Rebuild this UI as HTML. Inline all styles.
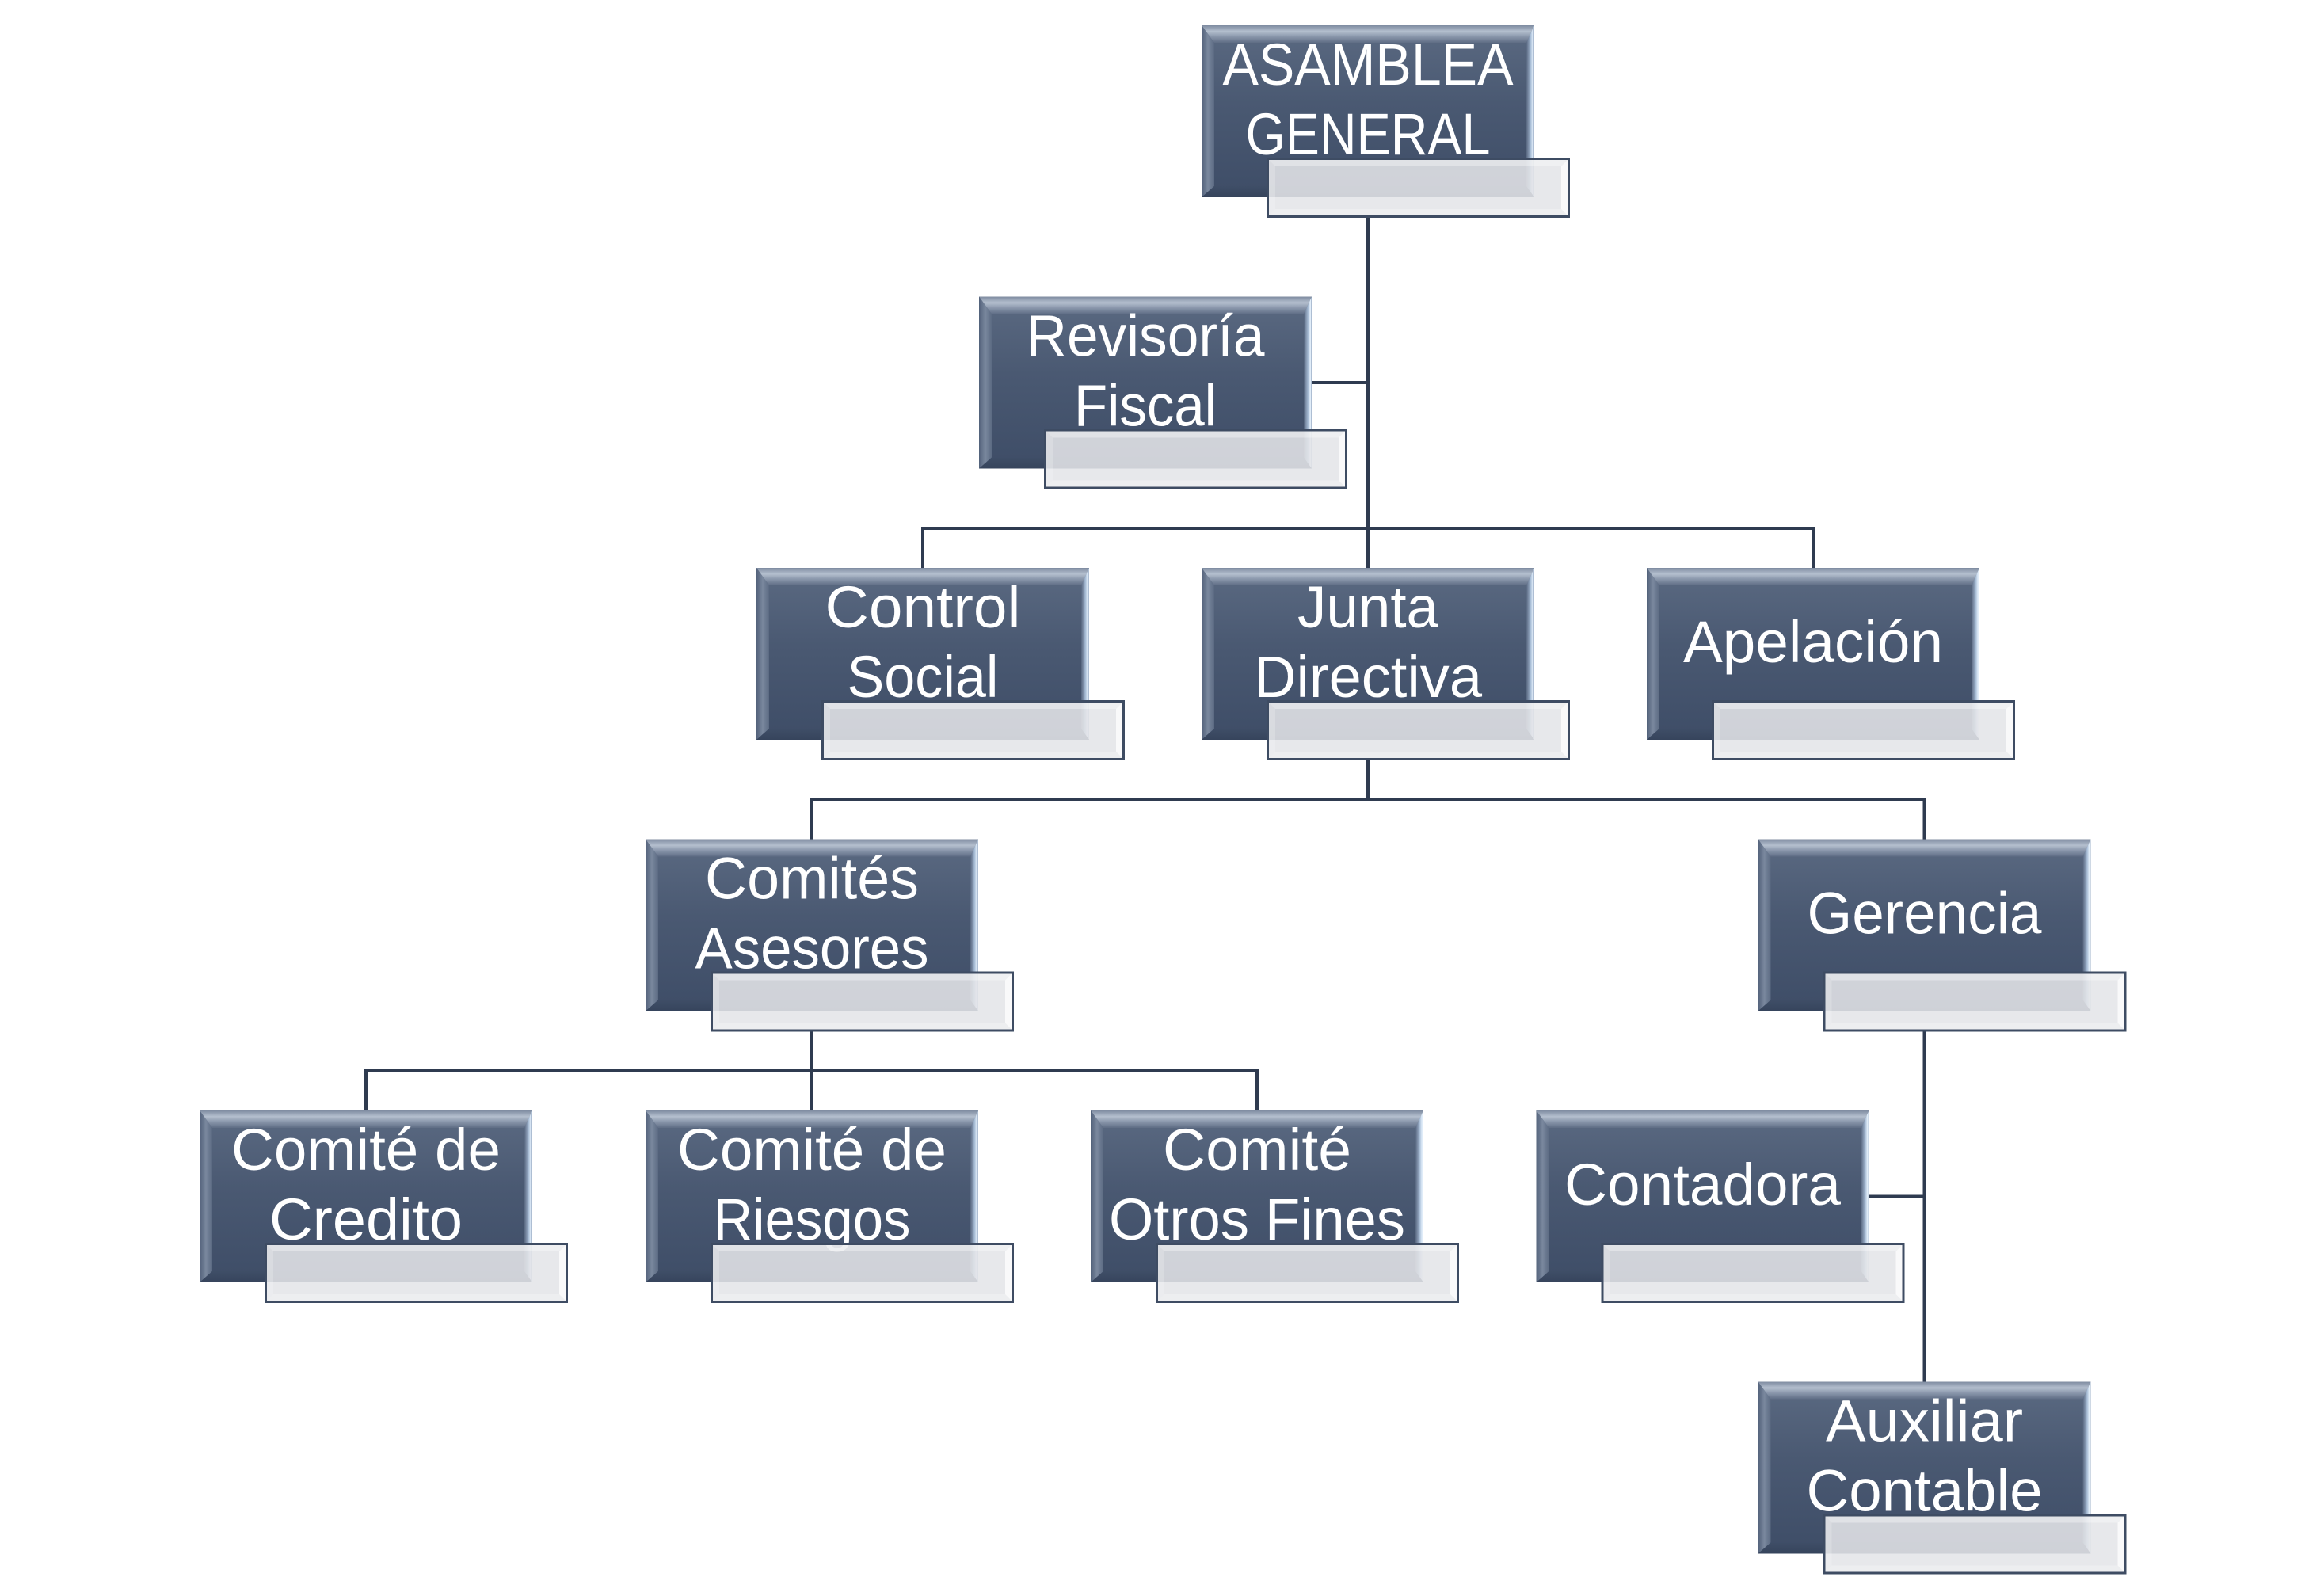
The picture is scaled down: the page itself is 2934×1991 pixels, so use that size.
<!DOCTYPE html>
<html>
<head>
<meta charset="utf-8">
<style>
html,body{margin:0;padding:0;background:#fff;}
svg{display:block;}
text{font-family:"Liberation Sans","DejaVu Sans",sans-serif;fill:#ffffff;font-size:74px;}
</style>
</head>
<body>
<svg width="2934" height="1991" viewBox="0 0 2934 1991" xmlns="http://www.w3.org/2000/svg">
<defs>
  <linearGradient id="gMain" x1="0" y1="0" x2="0" y2="1">
    <stop offset="0" stop-color="#5b6a82"/>
    <stop offset="0.45" stop-color="#4a5972"/>
    <stop offset="1" stop-color="#3e4d67"/>
  </linearGradient>
  <linearGradient id="gTop" x1="0" y1="0" x2="0" y2="1">
    <stop offset="0" stop-color="#7e8ba0"/>
    <stop offset="0.35" stop-color="#b4bfce"/>
    <stop offset="0.6" stop-color="#909db1"/>
    <stop offset="1" stop-color="#5f6d85"/>
  </linearGradient>
  <linearGradient id="gLeft" x1="0" y1="0" x2="1" y2="0">
    <stop offset="0" stop-color="#52617a"/>
    <stop offset="0.5" stop-color="#7a889e"/>
    <stop offset="1" stop-color="#5b6a82"/>
  </linearGradient>
  <linearGradient id="gRight" x1="0" y1="0" x2="1" y2="0">
    <stop offset="0" stop-color="#55647d"/>
    <stop offset="0.55" stop-color="#a8bdd6"/>
    <stop offset="0.85" stop-color="#eaf5ff"/>
    <stop offset="1" stop-color="#8fa3bd"/>
  </linearGradient>
  <linearGradient id="gBot" x1="0" y1="0" x2="0" y2="1">
    <stop offset="0" stop-color="#3f4e67"/>
    <stop offset="1" stop-color="#36445c"/>
  </linearGradient>
  <g id="bx">
    <rect x="0" y="0" width="420" height="217" fill="url(#gMain)"/>
    <polygon points="0,0 420,0 410,22 16,22" fill="url(#gTop)"/>
    <polygon points="0,0 16,22 16,203 0,217" fill="url(#gLeft)"/>
    <polygon points="420,0 420,217 410,203 410,22" fill="url(#gRight)"/>
    <polygon points="0,217 16,203 410,203 420,217" fill="url(#gBot)"/>
  </g>
  <g id="gb">
    <rect x="1.5" y="1.5" width="380" height="73" fill="#e4e5e8" fill-opacity="0.88" stroke="#3e4c63" stroke-width="3"/>
    <polygon points="3,3 380,3 372,11 11,11" fill="#ffffff" fill-opacity="0.35"/>
    <polygon points="380,3 380,73 372,65 372,11" fill="#ffffff" fill-opacity="0.75"/>
    <polygon points="3,73 11,65 372,65 380,73" fill="#ffffff" fill-opacity="0.25"/>
    <polygon points="3,3 11,11 11,65 3,73" fill="#ffffff" fill-opacity="0.2"/>
  </g>
</defs>

<!-- connectors -->
<g stroke="#2f3b50" stroke-width="4" fill="none" stroke-linecap="butt">
  <line x1="1727" y1="275" x2="1727" y2="717"/>
  <line x1="1656" y1="483" x2="1729" y2="483"/>
  <line x1="1163" y1="667" x2="2291" y2="667"/>
  <line x1="1165" y1="665" x2="1165" y2="717"/>
  <line x1="2289" y1="665" x2="2289" y2="717"/>

  <line x1="1727" y1="958" x2="1727" y2="1011"/>
  <line x1="1023" y1="1009" x2="2431.5" y2="1009"/>
  <line x1="1025" y1="1007" x2="1025" y2="1060"/>
  <line x1="2429.5" y1="1007" x2="2429.5" y2="1060"/>

  <line x1="1025" y1="1300" x2="1025" y2="1402"/>
  <line x1="460" y1="1352" x2="1589" y2="1352"/>
  <line x1="462" y1="1350" x2="462" y2="1402"/>
  <line x1="1587" y1="1350" x2="1587" y2="1402"/>

  <line x1="2429.5" y1="1300" x2="2429.5" y2="1745"/>
  <line x1="2359" y1="1510.5" x2="2431.5" y2="1510.5"/>
</g>

<!-- dark boxes -->
<use href="#bx" x="1517" y="32"/>
<use href="#bx" x="1236" y="374.5"/>
<use href="#bx" x="955" y="717"/>
<use href="#bx" x="1517" y="717"/>
<use href="#bx" x="2079" y="717"/>
<use href="#bx" x="815" y="1059.5"/>
<use href="#bx" x="2219.5" y="1059.5"/>
<use href="#bx" x="252" y="1402"/>
<use href="#bx" x="815" y="1402"/>
<use href="#bx" x="1377" y="1402"/>
<use href="#bx" x="1939.5" y="1402"/>
<use href="#bx" x="2219.5" y="1744.5"/>

<!-- labels -->
<g text-anchor="middle">
  <text x="1727" y="107" textLength="367" lengthAdjust="spacingAndGlyphs">ASAMBLEA</text>
  <text x="1727" y="195" textLength="309" lengthAdjust="spacingAndGlyphs">GENERAL</text>

  <text x="1446" y="449.5" textLength="301" lengthAdjust="spacingAndGlyphs">Revisoría</text>
  <text x="1446" y="537.5" textLength="180" lengthAdjust="spacingAndGlyphs">Fiscal</text>

  <text x="1165" y="792" textLength="247" lengthAdjust="spacingAndGlyphs">Control</text>
  <text x="1165" y="880" textLength="191" lengthAdjust="spacingAndGlyphs">Social</text>

  <text x="1727" y="792" textLength="178" lengthAdjust="spacingAndGlyphs">Junta</text>
  <text x="1727" y="880" textLength="288" lengthAdjust="spacingAndGlyphs">Directiva</text>

  <text x="2289" y="836" textLength="328" lengthAdjust="spacingAndGlyphs">Apelación</text>

  <text x="1025" y="1134.5" textLength="270" lengthAdjust="spacingAndGlyphs">Comités</text>
  <text x="1025" y="1222.5" textLength="295" lengthAdjust="spacingAndGlyphs">Asesores</text>

  <text x="2429.5" y="1178.5" textLength="296" lengthAdjust="spacingAndGlyphs">Gerencia</text>

  <text x="462" y="1477" textLength="340" lengthAdjust="spacingAndGlyphs">Comité de</text>
  <text x="462" y="1565" textLength="244" lengthAdjust="spacingAndGlyphs">Credito</text>

  <text x="1025" y="1477" textLength="340" lengthAdjust="spacingAndGlyphs">Comité de</text>
  <text x="1025" y="1565" textLength="249" lengthAdjust="spacingAndGlyphs">Riesgos</text>

  <text x="1587" y="1477" textLength="238" lengthAdjust="spacingAndGlyphs">Comité</text>
  <text x="1587" y="1565" textLength="374" lengthAdjust="spacingAndGlyphs">Otros Fines</text>

  <text x="2149.5" y="1521" textLength="349" lengthAdjust="spacingAndGlyphs">Contadora</text>

  <text x="2429.5" y="1819.5" textLength="249" lengthAdjust="spacingAndGlyphs">Auxiliar</text>
  <text x="2429.5" y="1907.5" textLength="298" lengthAdjust="spacingAndGlyphs">Contable</text>
</g>

<!-- gray translucent sub-boxes -->
<use href="#gb" x="1599" y="199"/>
<use href="#gb" x="1318" y="541.5"/>
<use href="#gb" x="1037" y="884"/>
<use href="#gb" x="1599" y="884"/>
<use href="#gb" x="2161" y="884"/>
<use href="#gb" x="897" y="1226.5"/>
<use href="#gb" x="2301.5" y="1226.5"/>
<use href="#gb" x="334" y="1569"/>
<use href="#gb" x="897" y="1569"/>
<use href="#gb" x="1459" y="1569"/>
<use href="#gb" x="2021.5" y="1569"/>
<use href="#gb" x="2301.5" y="1911.5"/>
</svg>
</body>
</html>
